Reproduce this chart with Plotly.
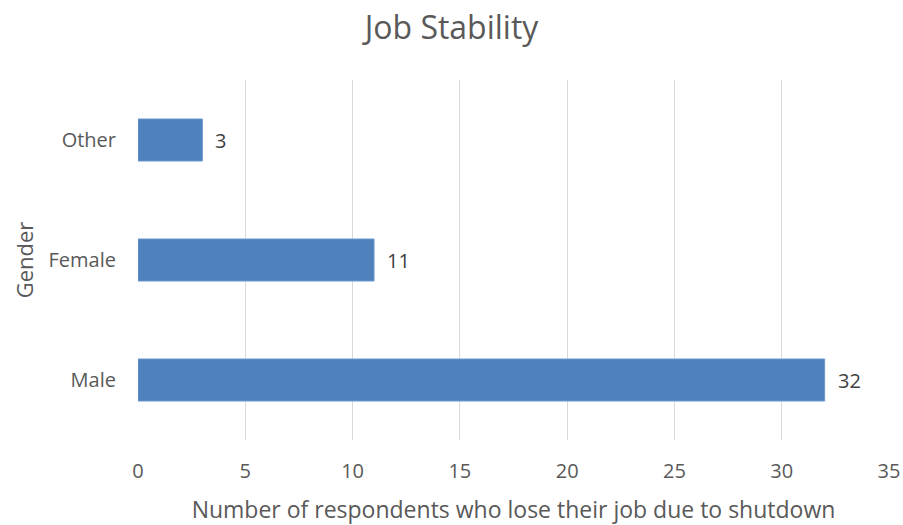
import plotly.graph_objects as go

categories = ["Male", "Female", "Other"]
values = [32, 11, 3]
x_ticks = [0, 5, 10, 15, 20, 25, 30, 35]

font_family = "Open Sans, Liberation Sans, sans-serif"
text_color = "#595959"

fig = go.Figure(go.Bar(
    y=categories,
    x=values,
    orientation="h",
    marker=dict(color="#4F81BD", line=dict(color="#6A96CC", width=1)),
    cliponaxis=False,
))

for c, v in zip(categories, values):
    fig.add_annotation(x=v, y=c, text=str(v), showarrow=False, xanchor="left",
                       xshift=11, font=dict(size=20, color="#404040", family=font_family))

fig.update_layout(
    width=903, height=525,
    margin=dict(l=138, r=14, t=80, b=85),
    paper_bgcolor="white", plot_bgcolor="white",
    bargap=0.65,
    showlegend=False,
    title=dict(text="Job Stability", x=0.5, xanchor="center", y=0.947, yanchor="middle",
               font=dict(size=32, color=text_color, family=font_family)),
    font=dict(family=font_family, color=text_color),
)
fig.update_xaxes(
    range=[0, 35], tickvals=x_ticks, showgrid=True, gridcolor="#D9D9D9", gridwidth=1,
    zeroline=False, showline=False, ticks="", ticklabelstandoff=17, automargin=False,
    tickfont=dict(size=20, color=text_color),
    title=dict(text="Number of respondents who lose their job due to shutdown",
               font=dict(size=23, color=text_color), standoff=21),
)
fig.update_yaxes(
    categoryorder="array", categoryarray=categories,
    showgrid=False, zeroline=False, showline=False, ticks="", automargin=False,
    ticklabelstandoff=21,
    tickfont=dict(size=20, color=text_color),
    title=dict(text="Gender", font=dict(size=22, color=text_color), standoff=8),
)

fig.write_html("out.html")
